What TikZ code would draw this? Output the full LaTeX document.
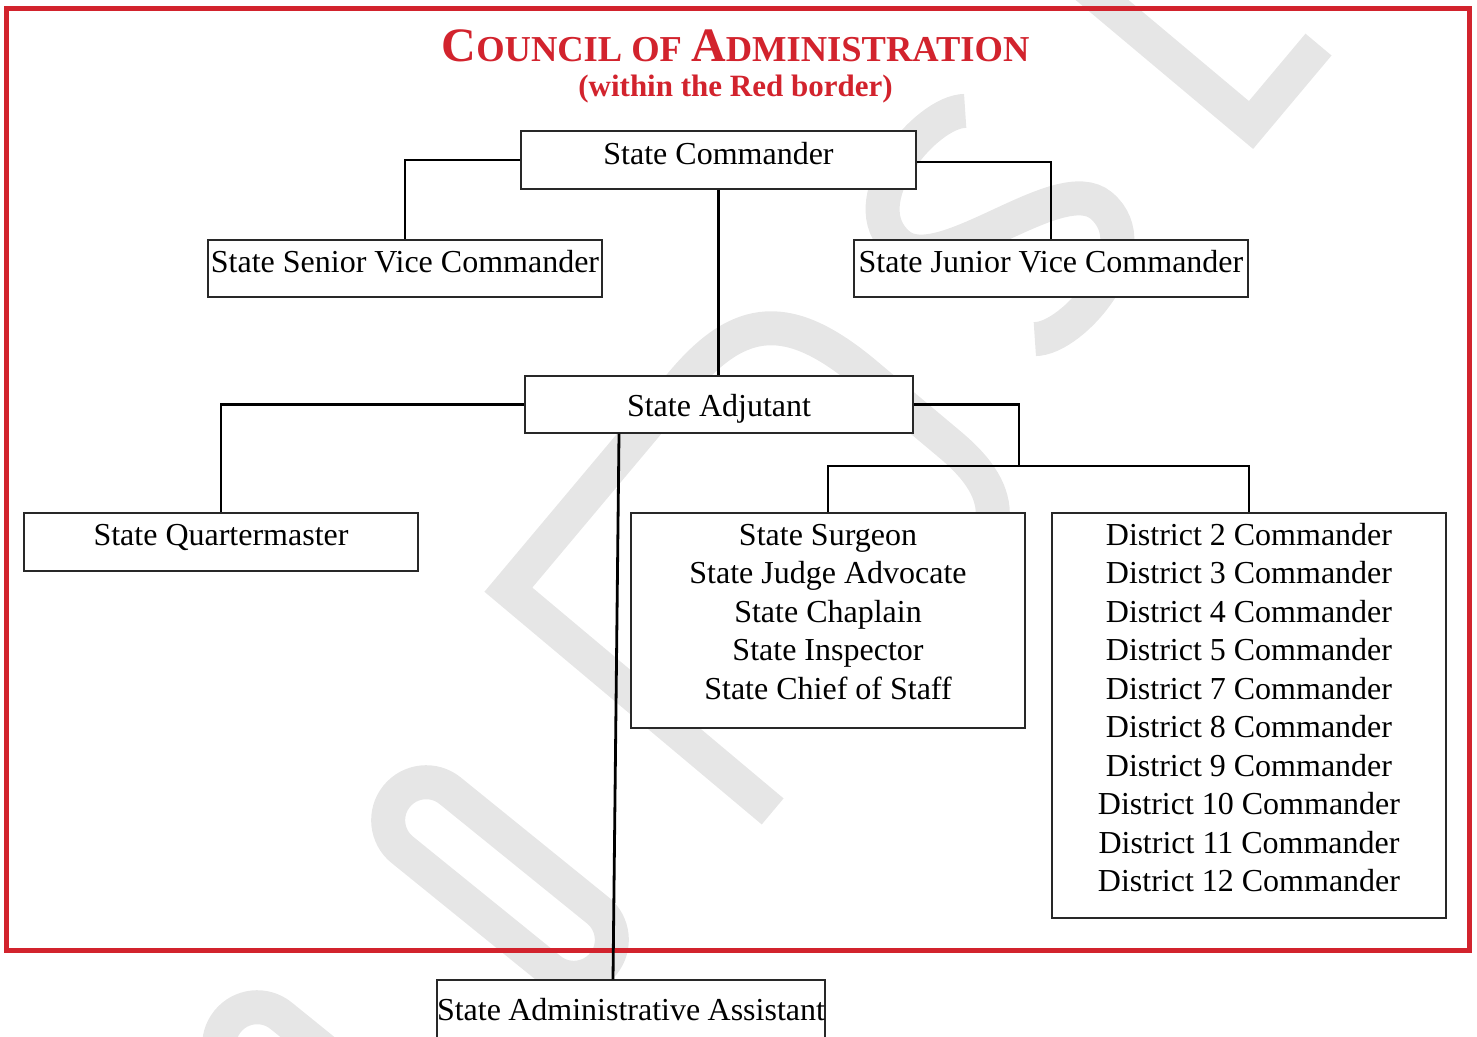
\documentclass[tikz,border=0pt]{standalone}
\usepackage{fontspec}
\setmainfont{Liberation Serif}
\definecolor{bordred}{RGB}{210,35,45}
\definecolor{wmgray}{RGB}{230,230,230}
\definecolor{boxline}{RGB}{40,40,40}
\newcommand\orgbox[4]{\parbox[c][#2pt][t]{#1pt}{\centering\rule{0pt}{#3pt}#4}}
\newcommand\bodyfont{\fontsize{32}{38.5}\selectfont}
\begin{document}
\begin{tikzpicture}[x=1pt,y=-1pt,
  box/.style={draw=boxline, fill=white, line width=1.4pt, inner sep=0pt, font=\bodyfont},
  conn/.style={line width=2.8pt, black},
  wm/.style={draw=wmgray, line width=34pt, line cap=butt, line join=miter}]
\useasboundingbox (0,0) rectangle (1477,1036);
% watermark
\begin{scope}[shift={(500,880)},rotate=-39]
  \draw[wm, rounded corners=38pt] (-133,-38) rectangle (133,38);
\end{scope}
\begin{scope}[shift={(331,1105)},rotate=-39]
  \draw[wm, rounded corners=38pt] (-133,-38) rectangle (133,38);
\end{scope}
\begin{scope}[shift={(765,805)},rotate=50]
  \draw[wm] (0,10) -- (0,-335) -- (270,-335) .. controls (360,-335) and (395,-300) .. (395,-200)
     -- (395,-90) .. controls (395,-10) and (360,10) .. (270,10);
\end{scope}
\begin{scope}[shift={(1000,225)},rotate=50]
  \draw[wm] (65,-100) .. controls (40,-130) and (-80,-130) .. (-80,-65)
     .. controls (-80,-10) and (80,10) .. (80,65)
     .. controls (80,130) and (-40,130) .. (-65,100);
\end{scope}
\begin{scope}[shift={(1251,125)},rotate=50]
  \draw[wm] (0,-320) -- (0,0) -- (105,0);
\end{scope}
% red border
\draw[bordred, line width=5pt] (6.5,8.5) rectangle (1469.5,950.5);
% title
\node[anchor=base, text=bordred, font=\bfseries, inner sep=0pt] (title) at (735.5,61)
  {{\fontsize{48}{48}\selectfont C}{\fontsize{36.5}{36.5}\selectfont OUNCIL OF }{\fontsize{48}{48}\selectfont A}{\fontsize{36.5}{36.5}\selectfont DMINISTRATION}};
\node[anchor=base, text=bordred, font=\bfseries\fontsize{31}{31}\selectfont, inner sep=0pt] (sub) at (735.5,96)
  {(within the Red border)};
% boxes
\node[box] (sc) at (718.5,160) {\orgbox{395}{58}{33}{State Commander}};
\node[box] (ssvc) at (405,268.5) {\orgbox{394}{57}{32}{State Senior Vice Commander}};
\node[box] (sjvc) at (1051,268.5) {\orgbox{394}{57}{32}{State Junior Vice Commander}};
\node[box] (adj) at (719,404.5) {\orgbox{388}{57}{40}{State Adjutant}};
\node[box] (qm) at (221,542) {\orgbox{394}{58}{32}{State Quartermaster}};
\node[box] (surg) at (828,620.5) {\orgbox{394}{215}{32}{State Surgeon\\State Judge Advocate\\State Chaplain\\State Inspector\\State Chief of Staff}};
\node[box] (dist) at (1249,715.5) {\orgbox{394}{405}{32}{District 2 Commander\\District 3 Commander\\District 4 Commander\\District 5 Commander\\District 7 Commander\\District 8 Commander\\District 9 Commander\\District 10 Commander\\District 11 Commander\\District 12 Commander}};
\node[box] (admin) at (631,1009) {\orgbox{388}{58}{40}{State Administrative Assistant}};
% connectors
\coordinate (bus) at (1019,466);
\draw[conn] (sc.west) -| (ssvc.north);
\draw[conn] ([yshift=-2pt]sc.east) -| (sjvc.north);
\draw[conn] (sc.south) -- (sc.south |- adj.north);
\draw[conn] (adj.west) -| (qm.north);
\draw[conn] (adj.east) -| (bus);
\draw[conn] (surg.north) -- (surg.north |- bus) -- (dist.north |- bus) -- (dist.north);
\draw[conn] ([xshift=-100pt]adj.south) -- ([xshift=-18pt]admin.north);
\end{tikzpicture}
\end{document}
